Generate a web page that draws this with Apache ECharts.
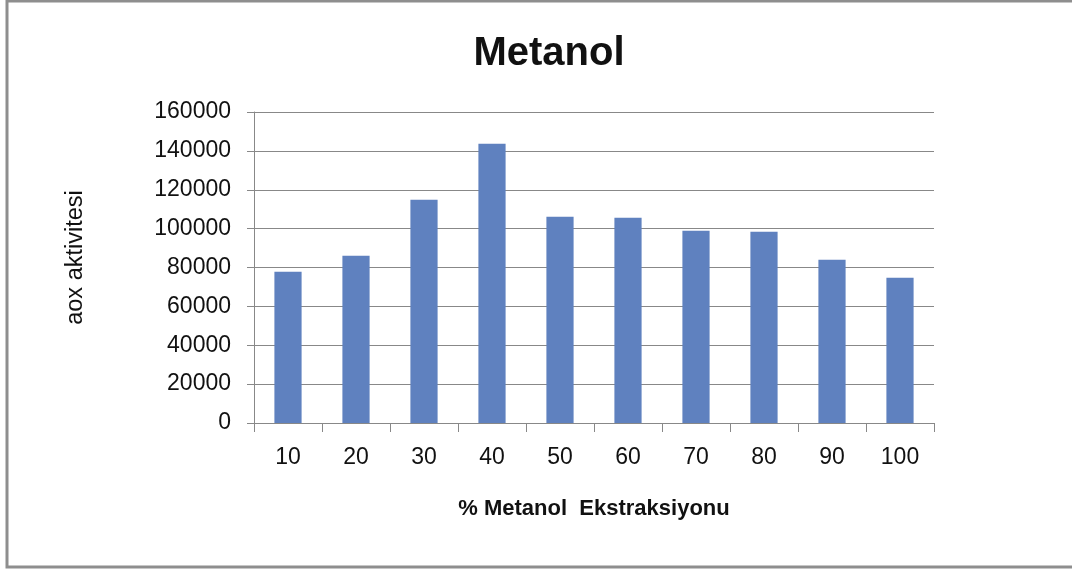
<!DOCTYPE html>
<html>
<head>
<meta charset="utf-8">
<script src="https://cdn.jsdelivr.net/npm/echarts@6/dist/echarts.min.js"></script>
<style>
  html, body { margin: 0; padding: 0; background: #fff; }
  #chart { width: 1072px; height: 569px; }
</style>
</head>
<body>
<div id="chart"></div>
<script>
// Methanol extraction percentages and measured antioxidant activity
const categories = ['10', '20', '30', '40', '50', '60', '70', '80', '90', '100'];
const aoxValues = [77800, 86000, 114900, 143700, 106100, 105600, 98900, 98400, 84000, 74700];
const yTicks = { min: 0, max: 160000, interval: 20000 };

const titleText = 'Metanol';
const xAxisTitle = '% Metanol  Ekstraksiyonu';
const yAxisTitle = 'aox aktivitesi';

const gray = '#888888';
const font = '"Liberation Sans", Arial, sans-serif';

const chart = echarts.init(document.getElementById('chart'), null, { renderer: 'canvas' });

chart.setOption({
  animation: false,
  backgroundColor: '#ffffff',
  title: {
    text: titleText,
    left: 544,
    top: 29,
    textAlign: 'center',
    textStyle: { fontFamily: font, fontWeight: 'bold', fontSize: 40, color: '#111' }
  },
  graphic: [{
    type: 'rect',
    shape: { x: 7, y: 1, width: 1200, height: 566 },
    style: { fill: 'none', stroke: '#8e8e8e', lineWidth: 3 },
    silent: true
  }],
  grid: { left: 254, right: 138, top: 112, bottom: 146 },
  xAxis: {
    type: 'category',
    data: categories,
    boundaryGap: true,
    name: xAxisTitle,
    nameLocation: 'middle',
    nameGap: 75,
    nameTextStyle: { fontFamily: font, fontWeight: 'bold', fontSize: 22, color: '#111' },
    axisLine: { show: true, lineStyle: { color: gray, width: 1 } },
    axisTick: { show: true, length: 9, alignWithLabel: false, lineStyle: { color: gray, width: 1 } },
    axisLabel: { margin: 23, fontFamily: font, fontSize: 23, color: '#111' },
    splitLine: { show: false }
  },
  yAxis: {
    type: 'value',
    min: yTicks.min,
    max: yTicks.max,
    interval: yTicks.interval,
    name: yAxisTitle,
    nameLocation: 'middle',
    nameGap: 166,
    nameRotate: 90,
    nameTextStyle: { fontFamily: font, fontSize: 23.5, color: '#111', padding: [0, 0, 0, 20] },
    axisLine: { show: true, lineStyle: { color: gray, width: 1 } },
    axisTick: { show: true, length: 7, lineStyle: { color: gray, width: 1 } },
    axisLabel: {
      margin: 23, fontFamily: font, fontSize: 23, color: '#111',
      formatter: (v) => String(v)
    },
    splitLine: { show: true, lineStyle: { color: gray, width: 1 } }
  },
  series: [{
    type: 'bar',
    data: aoxValues,
    barWidth: '40%',
    itemStyle: { color: '#5f81bf' }
  }]
});
</script>
</body>
</html>
